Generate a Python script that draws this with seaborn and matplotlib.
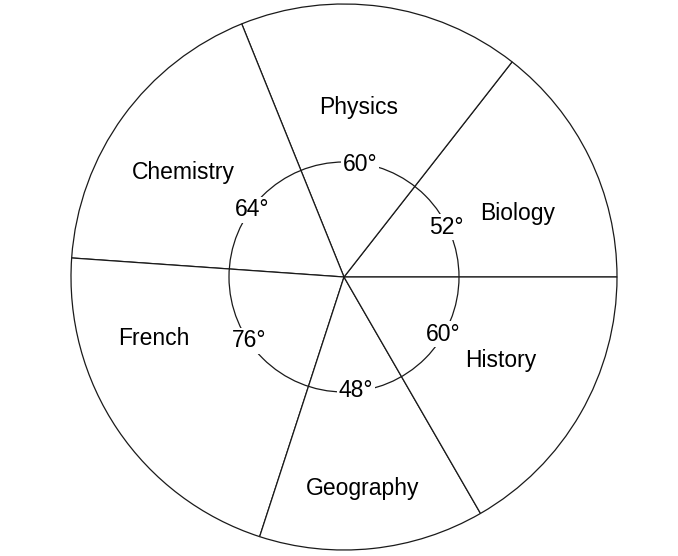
import numpy as np
import matplotlib
matplotlib.use("Agg")
import matplotlib.pyplot as plt
import seaborn as sns

# subject share of timetable, in degrees
subjects = ["Biology", "Physics", "Chemistry", "French", "Geography", "History"]
degrees = [52, 60, 64, 76, 48, 60]

# where each subject name sits: (angle in degrees, distance from centre in px)
name_pos = [(20, 185), (85, 170), (147, 191), (198, 200), (275, 212), (332, 178)]

sns.set_theme(style="white")
plt.rcParams["font.family"] = ["Liberation Sans", "DejaVu Sans"]

W, H = 678, 556
cx, cy = 344, 279
R, r_in = 273, 115
line_col = "#1a1a1a"

fig = plt.figure(figsize=(W / 100, H / 100), dpi=100)
ax = fig.add_axes([0, 0, 1, 1])

ax.pie(degrees, startangle=0, counterclock=True, center=(cx, cy), radius=R,
       colors=["white"] * len(degrees),
       wedgeprops=dict(edgecolor=line_col, linewidth=0.9))

ax.add_patch(plt.Circle((cx, cy), r_in, fill=False, edgecolor=line_col, linewidth=0.9, zorder=3))

# angle labels sit on the inner circle at each wedge's middle angle
edges = np.cumsum([0] + degrees)
for deg, a0, a1 in zip(degrees, edges[:-1], edges[1:]):
    mid = np.deg2rad((a0 + a1) / 2)
    ax.text(cx + 114 * np.cos(mid), cy + 114 * np.sin(mid), f"{deg}°",
            ha="center", va="center", fontsize=16.5, color="black", zorder=4,
            bbox=dict(facecolor="white", edgecolor="none", pad=1.0))

for name, (ang, dist) in zip(subjects, name_pos):
    t = np.deg2rad(ang)
    ax.text(cx + dist * np.cos(t), cy + dist * np.sin(t), name,
            ha="center", va="center", fontsize=16.5, color="black", zorder=4)

ax.set_xlim(0, W)
ax.set_ylim(0, H)
ax.set_aspect("equal")
ax.axis("off")

fig.savefig("out.png", dpi=100, facecolor="white")
